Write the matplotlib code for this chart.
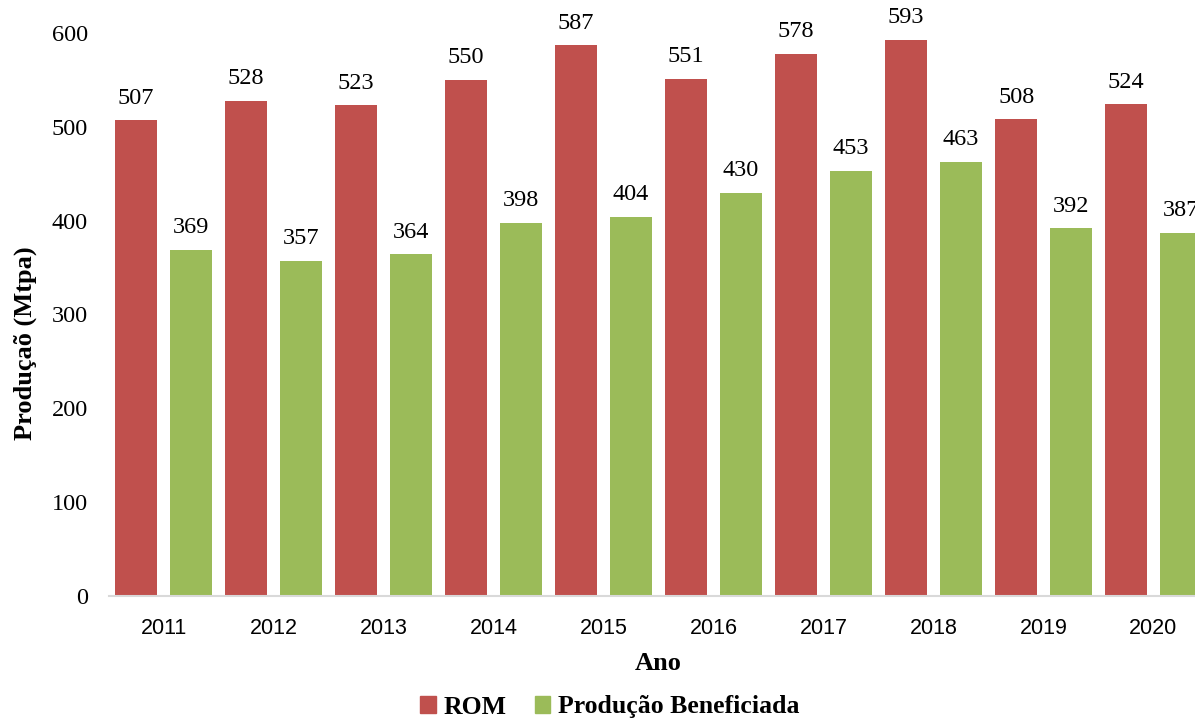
import matplotlib.pyplot as plt
import numpy as np
from matplotlib.patches import Patch

# ── Data ─────────────────────────────────────────────────
anos = ["2011", "2012", "2013", "2014", "2015", "2016", "2017", "2018", "2019", "2020"]
rom = [507, 528, 523, 550, 587, 551, 578, 593, 508, 524]
beneficiada = [369, 357, 364, 398, 404, 430, 453, 463, 392, 387]
y_ticks = [0, 100, 200, 300, 400, 500, 600]

RED = "#C0504D"
GREEN = "#9BBB59"
SERIF = "Liberation Serif"
SANS = "Liberation Sans"

# ── Plot ─────────────────────────────────────────────────
fig = plt.figure(figsize=(11.95, 7.18), dpi=100)
ax = fig.add_axes([108.5 / 1195, 122 / 718, 1100 / 1195, 563 / 718])

x = np.arange(len(anos))
w = 0.386
off = 0.248

b1 = ax.bar(x - off, rom, width=w, color=RED, linewidth=0)
b2 = ax.bar(x + off, beneficiada, width=w, color=GREEN, linewidth=0)

for bars in (b1, b2):
    for rect in bars:
        h = rect.get_height()
        ax.annotate(
            f"{h:.0f}",
            (rect.get_x() + rect.get_width() / 2, h),
            xytext=(0, 12),
            textcoords="offset points",
            ha="center",
            va="baseline",
            fontsize=17.5,
            family=SERIF,
            clip_on=False,
        )

ax.set_xlim(-0.5, len(anos) - 0.5)
ax.set_ylim(0, 600)
ax.set_yticks(y_ticks)
ax.set_yticklabels([str(t) for t in y_ticks], family=SERIF, fontsize=17.5)
ax.set_xticks(x)
ax.set_xticklabels(anos, family=SANS, fontsize=15.5)
ax.tick_params(axis="both", length=0)
ax.tick_params(axis="y", pad=15)
ax.tick_params(axis="x", pad=16)

for spine in ["top", "right", "left"]:
    ax.spines[spine].set_visible(False)
ax.spines["bottom"].set_color("#D9D9D9")
ax.spines["bottom"].set_linewidth(1.5)

# ── Labels ────────────────────────────────────────────────
fig.text(25 / 1195, 1 - 343 / 718, "Produçaõ (Mtpa)", rotation=90,
         ha="center", va="center", fontsize=19, fontweight="bold", family=SERIF)
fig.text(658 / 1195, 1 - 663 / 718, "Ano",
         ha="center", va="center", fontsize=19, fontweight="bold", family=SERIF)

# ── Legend ────────────────────────────────────────────────
handles = [Patch(color=RED, label="ROM"), Patch(color=GREEN, label="Produção Beneficiada")]
fig.legend(
    handles=handles,
    loc="center",
    bbox_to_anchor=(610 / 1195, 11 / 718),
    ncol=2,
    frameon=False,
    handlelength=0.6,
    handleheight=0.6,
    handletextpad=0.3,
    columnspacing=1.1,
    prop={"family": SERIF, "weight": "bold", "size": 18.5},
)

fig.savefig("out.png", dpi=100, facecolor="white")
